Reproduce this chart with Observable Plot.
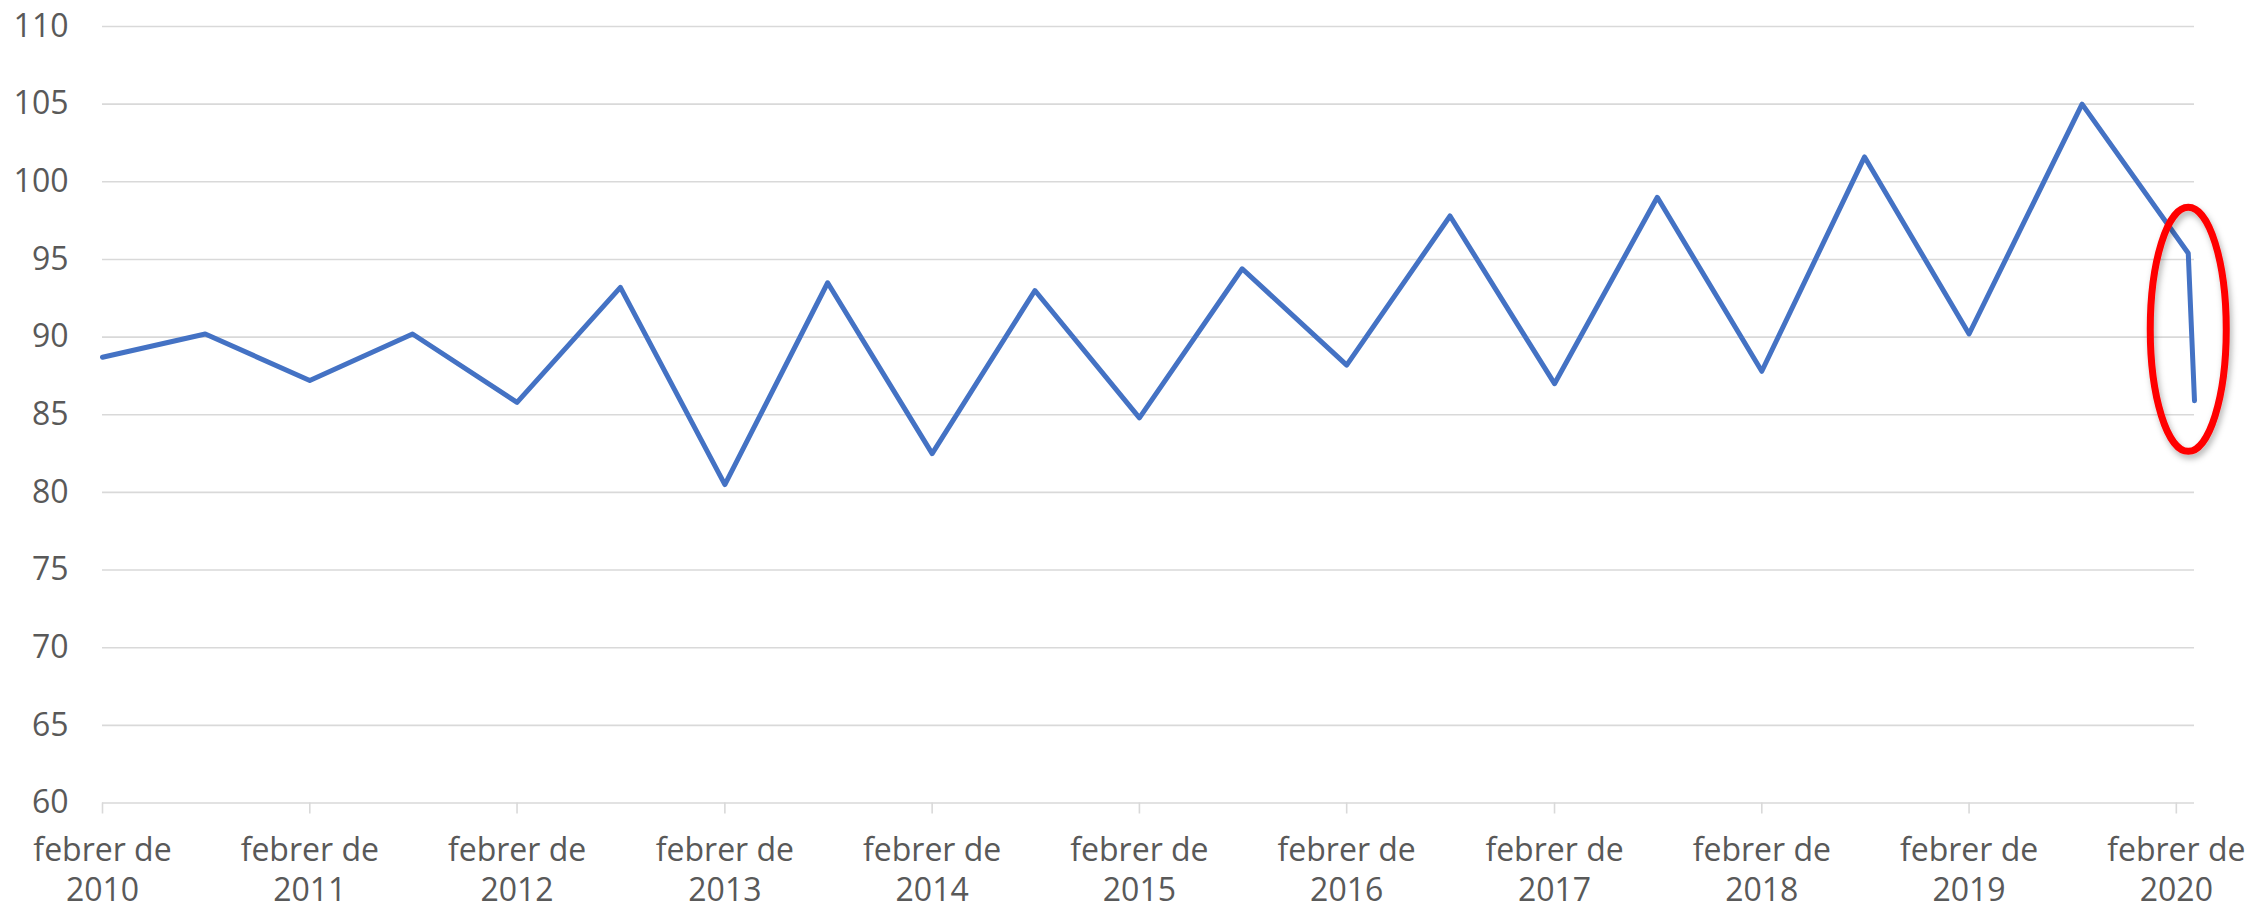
<!DOCTYPE html>
<html>
<head>
<meta charset="utf-8">
<script src="https://cdn.jsdelivr.net/npm/d3@7"></script>
<script src="https://cdn.jsdelivr.net/npm/@observablehq/plot@0.6"></script>
<style>
  html, body { margin: 0; padding: 0; background: #ffffff; }
</style>
</head>
<body>
<div id="chart"></div>
<script>
// ---- data ----
const dates = [
  "2010-02-01", "2010-08-01", "2011-02-01", "2011-08-01", "2012-02-01",
  "2012-08-01", "2013-02-01", "2013-08-01", "2014-02-01", "2014-08-01",
  "2015-02-01", "2015-08-01", "2016-02-01", "2016-08-01", "2017-02-01",
  "2017-08-01", "2018-02-01", "2018-08-01", "2019-02-01", "2019-08-19",
  "2020-02-22", "2020-03-04"
];
const values = [
  88.7, 90.2, 87.2, 90.2, 85.8,
  93.2, 80.5, 93.5, 82.5, 93.0,
  84.8, 94.4, 88.2, 97.8, 87.0,
  99.0, 87.8, 101.6, 90.2, 105.0,
  95.4, 85.9
];
const yTicks = [60, 65, 70, 75, 80, 85, 90, 95, 100, 105, 110];
const xTickYears = [2010, 2011, 2012, 2013, 2014, 2015, 2016, 2017, 2018, 2019, 2020];
const xTickMonthLabel = "febrer de";
const highlightDates = ["2020-02-22"];
const highlightValues = [90.5];

// ---- tables built from the arrays ----
const data = dates.map((d, i) => ({ date: new Date(d + "T00:00:00Z"), value: values[i] }));
const tickDates = xTickYears.map(y => new Date(Date.UTC(y, 1, 1)));
const highlight = highlightDates.map((d, i) => ({ date: new Date(d + "T00:00:00Z"), value: highlightValues[i] }));

// ellipse symbol for the red annotation
const ellipseSymbol = {
  draw(ctx) {
    const rx = 38, ry = 122, k = 0.5523;
    ctx.moveTo(rx, 0);
    ctx.bezierCurveTo(rx, ry * k, rx * k, ry, 0, ry);
    ctx.bezierCurveTo(-rx * k, ry, -rx, ry * k, -rx, 0);
    ctx.bezierCurveTo(-rx, -ry * k, -rx * k, -ry, 0, -ry);
    ctx.bezierCurveTo(rx * k, -ry, rx, -ry * k, rx, 0);
    ctx.closePath();
  }
};

const chart = Plot.plot({
  width: 2252,
  height: 909,
  marginLeft: 102,
  marginRight: 58,
  marginTop: 26,
  marginBottom: 106.5,
  style: {
    fontFamily: "'Open Sans', 'Noto Sans', sans-serif",
    fontSize: "32px",
    color: "#595959",
    background: "#ffffff"
  },
  x: { type: "utc", domain: [data[0].date, data[data.length - 1].date] },
  y: { domain: [60, 110] },
  marks: [
    Plot.gridY(yTicks, { stroke: "#d9d9d9", strokeOpacity: 1, strokeWidth: 1.6 }),
    Plot.axisY(yTicks, {
      tickSize: 0, tickPadding: 34, fontSize: 32, fill: "#595959", label: null
    }),
    Plot.axisX(tickDates, {
      tickSize: 11, tickPadding: 18, stroke: "#d9d9d9", strokeOpacity: 1, strokeWidth: 1.6,
      fill: "#595959", fontSize: 32, lineHeight: 1.27, label: null,
      tickFormat: d => `${xTickMonthLabel}\n${d.getUTCFullYear()}`
    }),
    Plot.line(data, {
      x: "date", y: "value", stroke: "#4472c4", strokeWidth: 5,
      strokeLinejoin: "round", strokeLinecap: "round"
    }),
    Plot.dot(highlight, {
      x: "date", y: "value", symbol: ellipseSymbol, r: 10,
      stroke: "#ff0000", strokeWidth: 7, fill: "none"
    })
  ]
});

// soft drop shadow on the annotation ellipse
const ns = "http://www.w3.org/2000/svg";
const defs = document.createElementNS(ns, "defs");
defs.innerHTML = '<filter id="ellShadow" x="-50%" y="-50%" width="200%" height="200%"><feDropShadow dx="2" dy="4" stdDeviation="3" flood-color="#000" flood-opacity="0.3"/></filter>';
chart.insertBefore(defs, chart.firstChild);
const dotG = chart.querySelector('g[aria-label="dot"]');
if (dotG) dotG.setAttribute("filter", "url(#ellShadow)");

document.getElementById("chart").appendChild(chart);
</script>
</body>
</html>
